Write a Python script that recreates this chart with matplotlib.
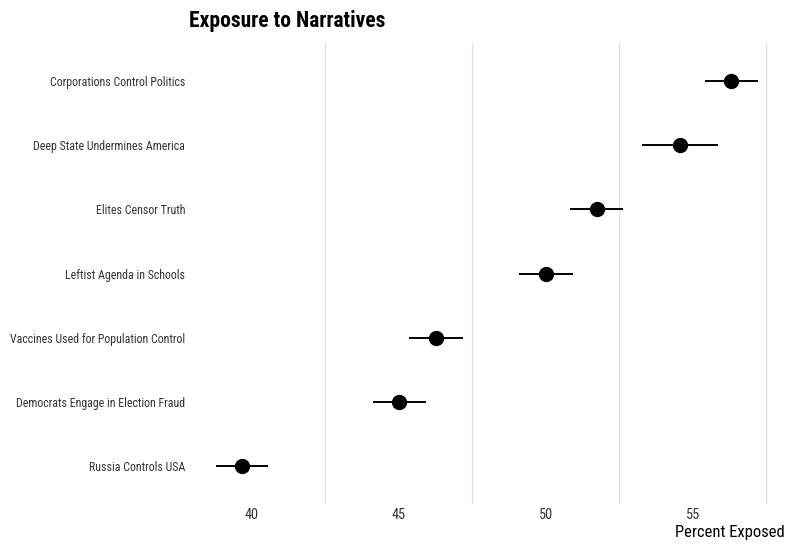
import matplotlib
matplotlib.use("Agg")
import matplotlib.pyplot as plt
from matplotlib import font_manager as fm
from matplotlib.ticker import FixedLocator

names = {f.name for f in fm.fontManager.ttflist}
fam = "Roboto"
for cand in ["Roboto Condensed", "Liberation Sans Narrow", "Archivo Narrow", "Barlow Semi Condensed"]:
    if cand in names:
        fam = cand
        break
plt.rcParams['font.family'] = [fam, 'DejaVu Sans']

categories = ["Corporations Control Politics", "Deep State Undermines America",
              "Elites Censor Truth", "Leftist Agenda in Schools",
              "Vaccines Used for Population Control",
              "Democrats Engage in Election Fraud", "Russia Controls USA"]
estimate = [56.29, 54.56, 51.73, 50.0, 46.26, 45.0, 39.66]
lower = [55.41, 53.27, 50.82, 49.08, 45.34, 44.12, 38.78]
upper = [57.21, 55.85, 52.62, 50.92, 47.18, 45.92, 40.54]
xticks = [40, 45, 50, 55]
gridlines = [42.5, 47.5, 52.5, 57.5]

fig = plt.figure(figsize=(7.85, 5.44), dpi=100)
ax = fig.add_axes([189/785, 1-504.4/544, 1-189/785, (504.4-42.6)/544])
n = len(categories)
ypos = list(range(n, 0, -1))
ax.hlines(ypos, lower, upper, color='black', lw=1.4, zorder=2)
ax.plot(estimate, ypos, 'o', color='black', ms=10, zorder=3)

lo = min(lower); hi = max(upper); r = hi - lo
ax.set_xlim(lo - 0.05*r, hi + 0.05*r)
ax.set_ylim(0.4, n + 0.6)
ax.set_yticks(ypos)
ax.set_yticklabels(categories, fontsize=8.6, color='#333333')
ax.xaxis.set_major_locator(FixedLocator(xticks))
ax.xaxis.set_minor_locator(FixedLocator(gridlines))
ax.tick_params(axis='x', which='major', length=0, labelsize=10.3, pad=2.5, labelcolor='#333333')
ax.tick_params(axis='x', which='minor', length=0)
ax.tick_params(axis='y', length=0, pad=2.8)
ax.grid(False)
ax.grid(True, which='minor', axis='x', color='#dedede', lw=0.9, zorder=0)
for s in ax.spines.values():
    s.set_visible(False)
ax.set_xlabel("Percent Exposed", fontsize=12, loc='right', labelpad=2.5)
ax.set_title("Exposure to Narratives", fontsize=15.5, fontweight='bold', loc='left', pad=11)
fig.savefig("out.png", dpi=100)
